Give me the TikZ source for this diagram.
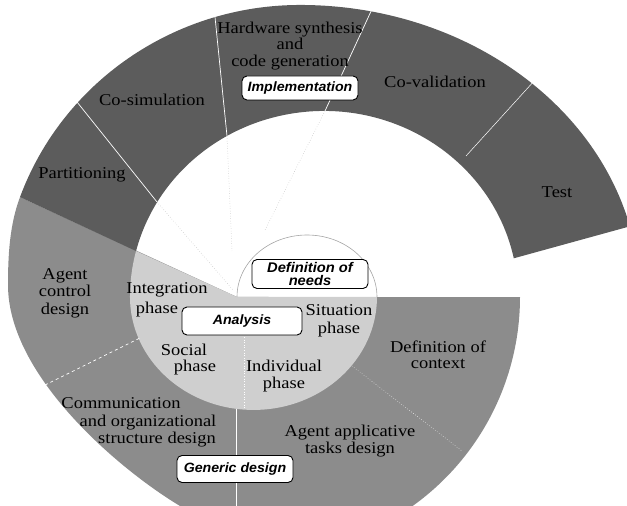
\documentclass[tikz,border=0pt]{standalone}
\usepackage{fontspec}
\setmainfont[FakeStretch=1.12]{Liberation Serif}
\newfontfamily\boxfamily[FakeStretch=1.05]{Liberation Sans}
\definecolor{darkband}{gray}{0.36}
\definecolor{midband}{gray}{0.55}
\definecolor{lightband}{gray}{0.81}
\newcommand\lblfont{\fontsize{16.5}{17.5}\selectfont}
\newcommand\boxfnt{\boxfamily\bfseries\itshape\fontsize{13.5}{12.5}\selectfont}
\begin{document}
\begin{tikzpicture}[x=1pt,y=1pt,
  lbl/.style={font=\lblfont, align=center, inner sep=0pt},
  stagebox/.style={draw=black, line width=0.9pt, fill=white, rounded corners=5pt,
    minimum width=116pt, minimum height=26pt, inner sep=1pt, align=center, font=\boxfnt},
  sep/.style={white, line width=0.7pt},
  faint/.style={gray!55, line width=0.5pt, dotted},
]
\useasboundingbox (0,0) rectangle (627,506);
\clip (0,0) rectangle (627,506);

\coordinate (O) at (237,209);
\coordinate (R1) at (20,308.9);
\coordinate (P1) at (136,255);
\coordinate (E1) at (513.8,247.7);

% Generic design band (medium grey)
\fill[midband] (O) -- (R1) .. controls (9.5,281) and (8,250) .. (8,221)
  .. controls (8,130) and (120,36) .. (180,0)
  .. controls (240,-36) and (339.5,-43.6) .. (391.5,-13.6)
  arc[start angle=-60, end angle=0, radius=257] -- cycle;

% Analysis (light grey)
\fill[lightband] (O) -- (P1) arc[start angle=165.7, end angle=180, x radius=194, y radius=186]
  arc[start angle=180, end angle=360, x radius=123.5, y radius=113] -- cycle;

% Implementation band (dark grey)
\fill[darkband] (R1) arc[start angle=160, end angle=90, x radius=298, y radius=292]
  arc[start angle=90, end angle=14, x radius=340, y radius=292]
  -- (E1) arc[start angle=12, end angle=165.7, x radius=194, y radius=186] -- cycle;

% Definition of needs (small half circle)
\draw[gray!70, line width=0.6pt] (O) arc[start angle=180, end angle=0, x radius=70, y radius=62];

% separators
\draw[sep] (73,409) -- (157,304);
\draw[faint] (157,304) -- (233,216);
\draw[sep] (215,489) -- (227,370);
\draw[faint] (227,370) -- (232,255);
\draw[sep] (373,499) -- (325,395);
\draw[faint] (325,395) -- (265,276);
\draw[sep, line width=0.5pt] (535,426) -- (466,350);
\draw[sep, dashed] (45,121) -- (140,168);
\draw[sep] (236,97) -- (236,0);
\draw[white, line width=0.6pt, dotted] (244,169) -- (244,97);
\draw[white, line width=0.5pt, dotted] (352,140) -- (462,55);

% labels
\node[lbl] (part) at (82,331) {Partitioning};
\node[lbl] (cosim) at (152,406) {Co-simulation};
\node[lbl, font=\fontsize{16.5}{16.5}\selectfont] (hw) at (290,460) {Hardware synthesis\\and\\code generation};
\node[lbl] (coval) at (435,424) {Co-validation};
\node[lbl] (test) at (557,314) {Test};
\node[lbl] (agctl) at (65,213) {Agent\\control\\design};
\node[lbl] (integ1) at (167,216) {Integration};
\node[lbl] (integ2) at (157,196) {phase};
\node[lbl] (situ) at (339,185) {Situation\\phase};
\node[lbl] (social1) at (184,156) {Social};
\node[lbl] (social2) at (195,138) {phase};
\node[lbl] (indiv) at (284,130) {Individual\\phase};
\node[lbl, font=\fontsize{16.5}{16.5}\selectfont] (ctx) at (438,151) {Definition of\\context};
\node[lbl] (comm1) at (121,103) {Communication};
\node[lbl] (comm2) at (148,83) {and organizational};
\node[lbl] (comm3) at (157,66) {structure design};
\node[lbl] (aat) at (350,65) {Agent applicative\\tasks design};

% stage boxes
\node[stagebox, minimum height=24pt] (impl) at (300,418) {Implementation};
\node[stagebox, minimum width=120pt, minimum height=28pt] (anal) at (242,185) {Analysis};
\node[stagebox, minimum height=29pt, font=\boxfamily\bfseries\itshape\fontsize{14}{13}\selectfont] (needs) at (310,232) {Definition of\\needs};
\node[stagebox, minimum height=27pt] (gen) at (235,37) {Generic design};
\end{tikzpicture}
\end{document}
